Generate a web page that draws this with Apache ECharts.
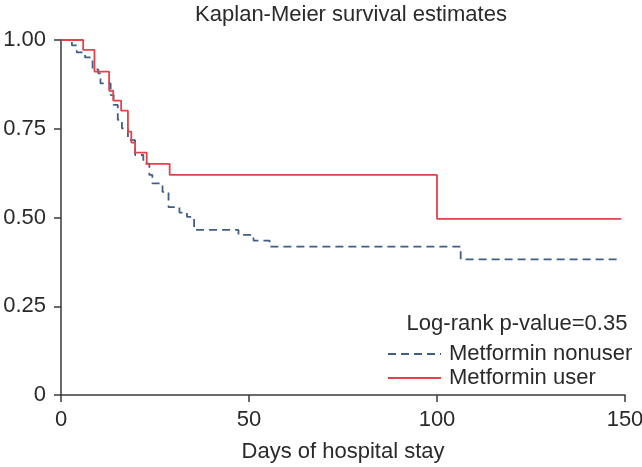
<!DOCTYPE html>
<html>
<head>
<meta charset="utf-8">
<script src="https://cdn.jsdelivr.net/npm/echarts@6/dist/echarts.min.js"></script>
<style>html,body{margin:0;padding:0;background:#fff;}#c{width:642px;height:467px;}</style>
</head>
<body>
<div id="c"></div>
<script>
var chartTitle = 'Kaplan-Meier survival estimates';
var xAxisName = 'Days of hospital stay';
var pValueText = 'Log-rank p-value=0.35';
var seriesNames = ['Metformin nonuser', 'Metformin user'];
var xTicks = [0, 50, 100, 150];
var yTicks = [0, 0.25, 0.5, 0.75, 1];

var nonuserDays = [0, 2.9, 4.2, 6.4, 8.4, 9.9, 10.5, 13.2, 14.0, 15.1, 16.2, 17.8, 19.7, 21.9, 23.5, 24.3, 27.0, 28.6, 31.5, 33.5, 35.4, 47.2, 51.2, 55.5, 106.3, 148];
var nonuserSurv = [1, 0.985, 0.965, 0.951, 0.917, 0.906, 0.878, 0.845, 0.817, 0.775, 0.751, 0.718, 0.676, 0.652, 0.62, 0.596, 0.572, 0.529, 0.514, 0.502, 0.465, 0.451, 0.435, 0.418, 0.382, 0.382];

var userDays = [0, 5.9, 8.9, 12.8, 13.9, 16.0, 17.8, 18.7, 19.7, 22.8, 28.9, 100, 149];
var userSurv = [1, 0.972, 0.911, 0.857, 0.829, 0.801, 0.742, 0.711, 0.683, 0.651, 0.620, 0.496, 0.496];

function pairs(xs, ys) { return xs.map(function (x, i) { return [x, ys[i]]; }); }

var FONT = '"Liberation Sans", Arial, sans-serif';
var AX = '#3a3a3a';
var chart = echarts.init(document.getElementById('c'), null, {renderer: 'canvas'});
chart.setOption({
  animation: false,
  backgroundColor: '#ffffff',
  title: [{
    text: chartTitle,
    left: 346, top: -1, textAlign: 'center',
    textStyle: {fontFamily: FONT, fontSize: 22, fontWeight: 'normal', color: '#2a2a2a'}
  }, {
    text: pValueText,
    left: 512, top: 308, textAlign: 'center',
    textStyle: {fontFamily: FONT, fontSize: 22, fontWeight: 'normal', color: '#2a2a2a'}
  }],
  legend: {
    orient: 'vertical', left: 382, top: 338,
    itemWidth: 53, itemHeight: 18, itemGap: 2,
    itemStyle: {opacity: 0, borderWidth: 0},
    textStyle: {fontFamily: FONT, fontSize: 22, color: '#2a2a2a', padding: [0, 0, 0, 3]},
    data: seriesNames
  },
  grid: {left: 61, right: 17, top: 40, bottom: 72, containLabel: false, outerBoundsMode: 'none'},
  xAxis: {
    type: 'value', min: 0, max: 150, interval: 50,
    name: xAxisName, nameLocation: 'middle', nameGap: 46,
    nameTextStyle: {fontFamily: FONT, fontSize: 22, color: '#2a2a2a'},
    axisLine: {show: true, lineStyle: {color: AX, width: 1.5}},
    axisTick: {show: true, length: 7, lineStyle: {color: AX, width: 1.5}},
    axisLabel: {fontFamily: FONT, fontSize: 22, color: '#2a2a2a', margin: 14,
      formatter: function (v) { return xTicks.indexOf(v) >= 0 ? String(v) : ''; }},
    splitLine: {show: false}
  },
  yAxis: {
    type: 'value', min: 0, max: 1, interval: 0.25,
    axisLine: {show: true, lineStyle: {color: AX, width: 1.5}},
    axisTick: {show: true, length: 7, lineStyle: {color: AX, width: 1.5}},
    axisLabel: {fontFamily: FONT, fontSize: 22, color: '#2a2a2a', margin: 15,
      formatter: function (v) { return yTicks.indexOf(v) >= 0 ? (v === 0 ? '0' : v.toFixed(2)) : ''; }},
    splitLine: {show: false}
  },
  series: [{
    name: seriesNames[0], type: 'line', step: 'end', symbol: 'none',
    data: pairs(nonuserDays, nonuserSurv),
    itemStyle: {color: '#3f5f86'},
    lineStyle: {color: '#3f5f86', width: 1.8, type: [8, 5]}
  }, {
    name: seriesNames[1], type: 'line', step: 'end', symbol: 'none',
    data: pairs(userDays, userSurv),
    itemStyle: {color: '#e6404a'},
    lineStyle: {color: '#e6404a', width: 1.8, type: 'solid'}
  }]
});
</script>
</body>
</html>
